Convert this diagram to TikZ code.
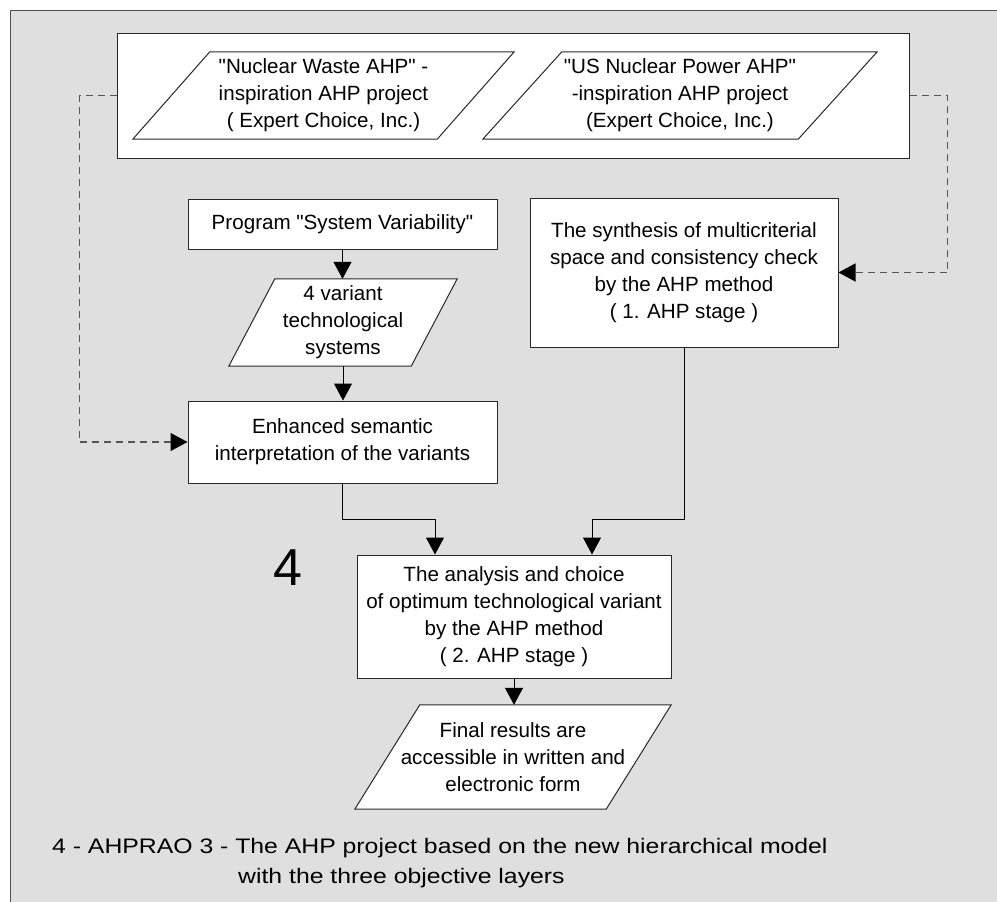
\documentclass[tikz,border=0pt]{standalone}
\usepackage{fontspec}
\usepackage{graphicx}
\setmainfont{Liberation Sans}[Ligatures=TeXOff]
\usetikzlibrary{arrows.meta}
\pgfdeclarelayer{back}
\pgfdeclarelayer{paras}
\pgfsetlayers{back,paras,main}
\definecolor{bggray}{RGB}{223,223,223}
\definecolor{framec}{RGB}{80,80,80}
\definecolor{linec}{RGB}{40,40,40}
\definecolor{dashc}{RGB}{85,85,85}
\newcommand\bodyfont{\fontsize{20.6}{27}\selectfont}
\newcommand\capfont{\fontsize{21}{27}\selectfont}
\tikzset{
 box/.style={draw=linec, fill=white, line width=1pt, rectangle, inner sep=0pt, align=center, font=\bodyfont},
 paranode/.style={rectangle, inner sep=0pt, align=center, font=\bodyfont},
 parashape/.style={draw=linec, fill=white, line width=1pt, line join=miter},
 flow/.style={draw=black, line width=1pt, -{Triangle[length=17pt,width=18pt]}},
 dashflow/.style={draw=dashc, line width=1.3pt, dash pattern=on 7pt off 5pt, -{Triangle[length=17pt,width=18pt,color=black]}},
 captext/.style={anchor=base west, inner sep=0pt, font=\capfont},
}
\newcommand\parashape[2]{%
 \begin{pgfonlayer}{paras}
 \draw[parashape] (#1.south west) -- ([xshift=#2]#1.north west) -- (#1.north east) -- ([xshift=-#2]#1.south east) -- cycle;
 \end{pgfonlayer}}
\begin{document}
\begin{tikzpicture}[x=1pt,y=-1pt]
\useasboundingbox (0,0) rectangle (997,902);
\begin{pgfonlayer}{back}
\fill[bggray] (10,10) rectangle (1010,912);
\draw[framec, line width=1pt] (1010,10) -- (10,10) -- (10,912);
\node[box, minimum width=792pt, minimum height=125pt] (top) at (513,95.5) {};
\end{pgfonlayer}

% inspiration projects
\node[paranode, minimum width=381pt, minimum height=87pt] (p1) at (323.5,95.5)
  {"Nuclear Waste AHP" -\\inspiration AHP project\\( Expert Choice, Inc.)};
\parashape{p1}{77pt}
\node[paranode, minimum width=394pt, minimum height=87pt] (p2) at (680,95.5)
  {"US Nuclear Power AHP"\\-inspiration AHP project\\(Expert Choice, Inc.)};
\parashape{p2}{79pt}

% left column
\node[box, minimum width=309pt, minimum height=50pt] (prog) at (342.5,224)
  {Program "System Variability"};
\node[paranode, minimum width=228pt, minimum height=87pt] (p3) at (343,322.5)
  {4 variant\\technological\\systems};
\parashape{p3}{46pt}
\node[box, minimum width=309pt, minimum height=82pt] (enh) at (342.5,442)
  {Enhanced semantic\\interpretation of the variants};

% right column
\node[box, minimum width=308pt, minimum height=149pt] (syn) at (684,272.5)
  {The synthesis of multicriterial\\space and consistency check\\by the AHP method\\( 1. AHP stage )};

% analysis
\node[box, minimum width=314pt, minimum height=123pt] (ana) at (514,616.5)
  {The analysis and choice\\of optimum technological variant\\by the AHP method\\( 2. AHP stage )};
\node[paranode, minimum width=316pt, minimum height=104pt] (fin) at (513,757)
  {Final results are\\accessible in written and\\electronic form};
\parashape{fin}{65pt}

\node[inner sep=0pt, font=\fontsize{52}{60}\selectfont] (four) at (288,567.5) {4};

% connectors
\draw[flow] (prog.south) -- (prog.south |- p3.north);
\draw[flow] (p3.south) -- (p3.south |- enh.north);
\draw[flow] (enh.south) -- ++(0,36) -| ([xshift=-79pt]ana.north);
\draw[flow] (syn.south) -- ++(0,172) -| ([xshift=78pt]ana.north);
\draw[flow] (ana.south) -- (ana.south |- fin.north);
\draw[dashflow] (top.west) -- ++(-37,0) |- (enh.west);
\draw[dashflow] (top.east) -- ++(38,0) |- (syn.east);

% caption
\node[captext] (cap1) at (52,853) {\scalebox{1.18}[1]{4 - AHPRAO 3 - The AHP project based on the new hierarchical model}};
\node[captext] (cap2) at (238,883) {\scalebox{1.18}[1]{with the three objective layers}};
\end{tikzpicture}
\end{document}
